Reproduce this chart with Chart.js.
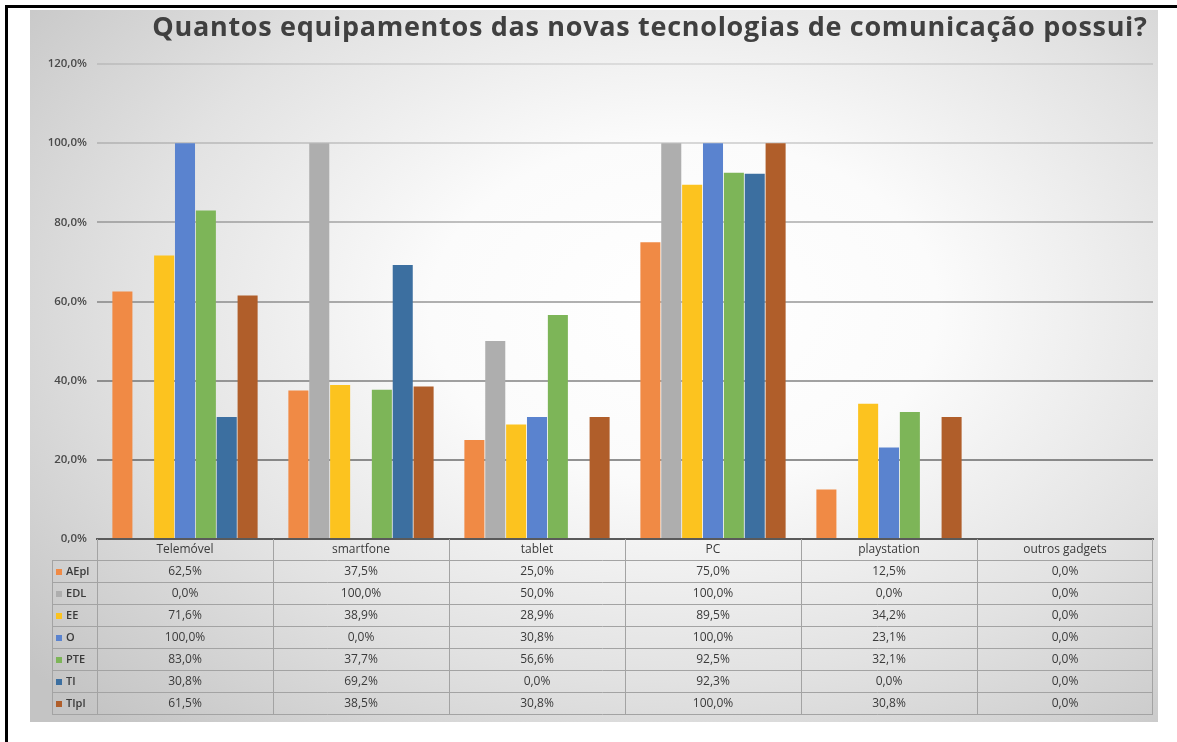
<!DOCTYPE html>
<html>
<head>
<meta charset="utf-8">
<script src="https://cdn.jsdelivr.net/npm/chart.js@4"></script>
<style>
  html, body { margin: 0; padding: 0; background: #fff; }
  body { width: 1177px; height: 742px; position: relative; overflow: hidden; }
  .frame { position: absolute; left: 5px; top: 5px; width: 1200px; height: 760px; border-top: 3px solid #000; border-left: 3px solid #000; }
  .chart-box {
    position: absolute; left: 30px; top: 10px; width: 1128px; height: 712px;
    background: radial-gradient(ellipse 75% 80% at 58% 42%, #ffffff 0%, #fbfbfb 30%, #e2e2e2 65%, #c4c4c4 100%);
  }
  .titulo {
    position: absolute; left: 0; top: 11px; width: 1300px; text-align: center;
    font: bold 27px/30px "Open Sans", Lato, sans-serif; letter-spacing: 0.7px; color: #404040;
  }
  canvas { position: absolute; left: 0; top: 0; }
</style>
</head>
<body>
<div class="frame"></div>
<div class="chart-box"><canvas id="grafico" width="1128" height="712"></canvas></div>
<div class="titulo" id="titulo"></div>
<script>
const titulo = 'Quantos equipamentos das novas tecnologias de comunicação possui?';
const categorias = ['Telemóvel', 'smartfone', 'tablet', 'PC', 'playstation', 'outros gadgets'];
const series = ['AEpl', 'EDL', 'EE', 'O', 'PTE', 'TI', 'TIpl'];
const cores = ['#F08A45', '#AEAEAE', '#FCC31F', '#5A83CF', '#7DB558', '#3C6FA0', '#B05E2A'];

const AEpl = [62.5, 37.5, 25.0, 75.0, 12.5, 0.0];
const EDL  = [0.0, 100.0, 50.0, 100.0, 0.0, 0.0];
const EE   = [71.6, 38.9, 28.9, 89.5, 34.2, 0.0];
const O    = [100.0, 0.0, 30.8, 100.0, 23.1, 0.0];
const PTE  = [83.0, 37.7, 56.6, 92.5, 32.1, 0.0];
const TI   = [30.8, 69.2, 0.0, 92.3, 0.0, 0.0];
const TIpl = [61.5, 38.5, 30.8, 100.0, 30.8, 0.0];
const valores = [AEpl, EDL, EE, O, PTE, TI, TIpl];

const yMax = 120;
const yPasso = 20;

const FONTE = '"Open Sans", Lato, sans-serif';
const pct = v => v.toFixed(1).replace('.', ',') + '%';

document.getElementById('titulo').textContent = titulo;

// desenha a tabela de dados por baixo do eixo (como no Excel)
const tabelaPlugin = {
  id: 'tabela',
  afterDraw(chart) {
    const ctx = chart.ctx;
    const x = chart.scales.x;
    const area = chart.chartArea;
    const topo = area.bottom;
    const altCab = 21;
    const altLinha = 22;
    const chaveEsq = 22;
    const larg = (area.right - area.left) / categorias.length;
    const fundo = topo + altCab + series.length * altLinha;

    ctx.save();
    ctx.strokeStyle = '#a3a3a3';
    ctx.lineWidth = 1;

    // linhas horizontais
    for (let i = 0; i <= series.length; i++) {
      const y = Math.round(topo + altCab + i * altLinha) + 0.5;
      ctx.beginPath();
      ctx.moveTo(chaveEsq, y);
      ctx.lineTo(area.right, y);
      ctx.stroke();
    }
    // linhas verticais das colunas
    categorias.forEach((c, i) => {
      const xc = Math.round(x.getPixelForValue(i) - larg / 2) + 0.5;
      ctx.beginPath();
      ctx.moveTo(xc, topo);
      ctx.lineTo(xc, fundo);
      ctx.stroke();
    });
    const xr = Math.round(area.right) - 0.5;
    ctx.beginPath(); ctx.moveTo(xr, topo); ctx.lineTo(xr, fundo); ctx.stroke();
    ctx.beginPath(); ctx.moveTo(chaveEsq + 0.5, topo + altCab); ctx.lineTo(chaveEsq + 0.5, fundo); ctx.stroke();

    // valores e legenda
    ctx.textBaseline = 'middle';
    series.forEach((s, r) => {
      const yc = topo + altCab + r * altLinha + altLinha / 2 + 0.5;
      ctx.fillStyle = cores[r];
      ctx.fillRect(chaveEsq + 4, Math.round(yc) - 3, 6, 6);
      ctx.fillStyle = '#3a3a3a';
      ctx.textAlign = 'left';
      ctx.font = '600 11px ' + FONTE;
      ctx.fillText(s, chaveEsq + 14, yc);
      ctx.textAlign = 'center';
      ctx.font = '12px ' + FONTE;
      valores[r].forEach((v, i) => {
        ctx.fillText(pct(v), x.getPixelForValue(i), yc);
      });
    });
    ctx.restore();
  }
};

const corGrelha = {120: 'rgba(0,0,0,0.09)', 100: 'rgba(0,0,0,0.14)', 80: 'rgba(0,0,0,0.24)', 60: 'rgba(0,0,0,0.30)', 40: 'rgba(0,0,0,0.36)', 20: 'rgba(0,0,0,0.42)'};

new Chart(document.getElementById('grafico'), {
  type: 'bar',
  data: {
    labels: categorias,
    datasets: series.map((s, i) => ({
      label: s,
      data: valores[i],
      backgroundColor: cores[i],
      borderWidth: 0,
      categoryPercentage: 0.83,
      barPercentage: 0.96
    }))
  },
  options: {
    responsive: false,
    animation: false,
    layout: { padding: { left: 0, right: 5, top: 54, bottom: 0 } },
    plugins: {
      legend: { display: false },
      tooltip: { enabled: false }
    },
    scales: {
      y: {
        min: 0,
        max: yMax,
        z: 1,
        ticks: {
          stepSize: yPasso,
          color: '#4a4a4a',
          padding: 10,
          font: { family: FONTE, size: 11.5, weight: '600' },
          callback: v => pct(v)
        },
        grid: {
          color: c => corGrelha[c.tick.value] || 'rgba(0,0,0,0)',
          lineWidth: 2,
          drawTicks: false
        },
        border: { display: false },
        afterFit: s => { s.width = 67; }
      },
      x: {
        ticks: {
          color: '#3a3a3a',
          padding: 3,
          font: { family: FONTE, size: 12 }
        },
        grid: { display: false, drawTicks: false },
        border: { display: true, color: '#5a5a5a', width: 2 },
        afterFit: s => { s.height = 183; }
      }
    }
  },
  plugins: [tabelaPlugin]
});
</script>
</body>
</html>
